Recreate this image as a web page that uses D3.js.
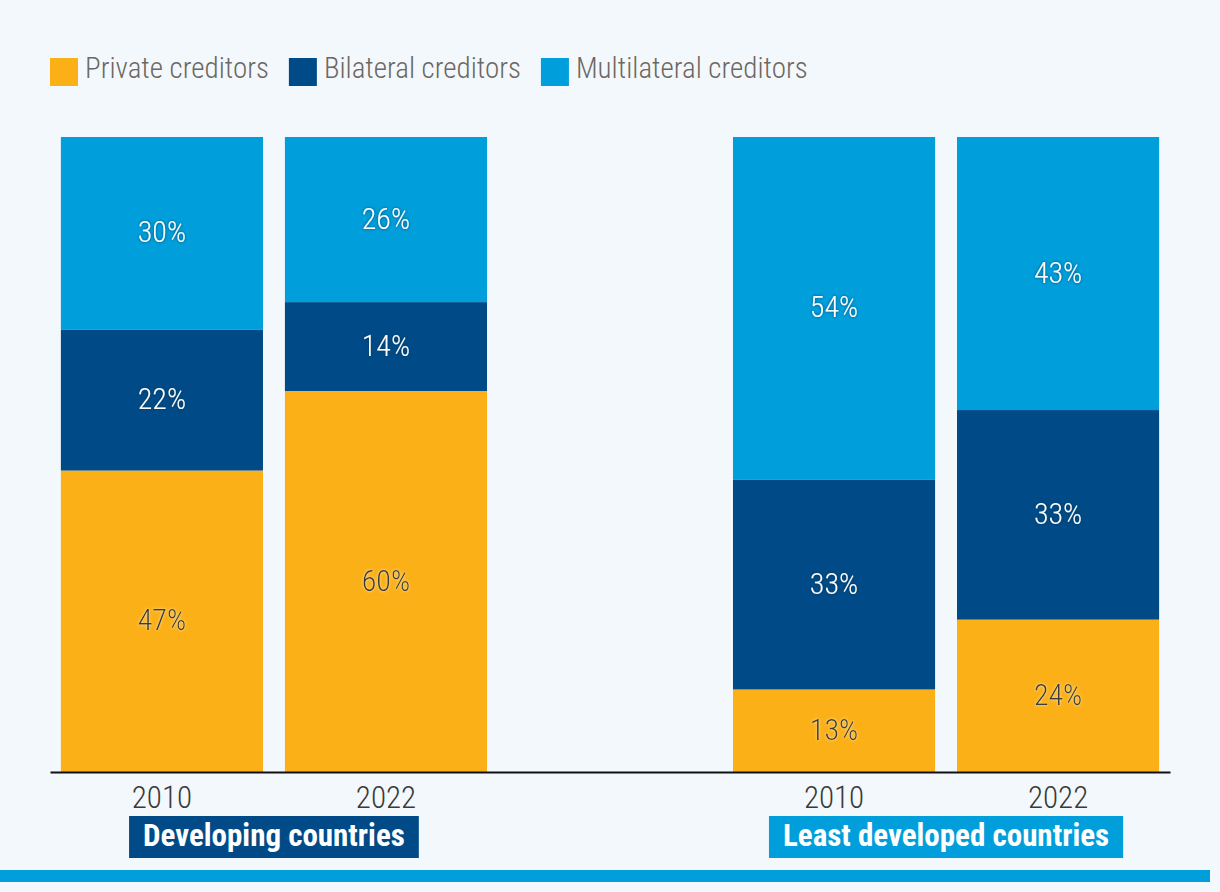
<!DOCTYPE html>
<html><head><meta charset="utf-8">
<script src="https://cdn.jsdelivr.net/npm/d3@7"></script>
<style>
html,body{margin:0;padding:0;background:#f3f8fc;}
svg{display:block;}
.cond{font-family:"Liberation Sans Narrow","Arial Narrow","Roboto Condensed",sans-serif;}
.light{font-weight:300;}
</style></head>
<body>
<svg id="chart" width="1220" height="892"></svg>
<script>
const seriesKeys = ["private","bilateral","multilateral"];
const seriesNames = ["Private creditors","Bilateral creditors","Multilateral creditors"];
const seriesColors = ["#fbb018","#004b87","#009fdb"];
const groups = ["Developing countries","Least developed countries"];
const groupColors = ["#004b87","#009fdb"];
const years = ["2010","2022"];
const barIds = ["dev2010","dev2022","gap","ldc2010","ldc2022"];
const privateVals = [47,60,null,13,24];
const bilateralVals = [22,14,null,33,33];
const multilateralVals = [30,26,null,54,43];

const svg = d3.select("#chart");
const W = 1220, H = 892;
svg.append("rect").attr("width",W).attr("height",H).attr("fill","#f3f8fc");

const rows = barIds.map((id,i)=>({id, private:privateVals[i]||0, bilateral:bilateralVals[i]||0, multilateral:multilateralVals[i]||0, empty: privateVals[i]==null}));
const stack = d3.stack().keys(seriesKeys).offset(d3.stackOffsetExpand);
const stacked = stack(rows.filter(r=>!r.empty));

const x = d3.scaleBand().domain(barIds).range([50,1170]).paddingInner(0.0979).paddingOuter(0.0486);
const y = d3.scaleLinear().domain([0,1]).range([772,137]);
const color = d3.scaleOrdinal().domain(seriesKeys).range(seriesColors);

const defs = svg.append("defs");
const f1 = defs.append("filter").attr("id","glowDark").attr("x","-30%").attr("y","-30%").attr("width","160%").attr("height","160%");
f1.append("feDropShadow").attr("dx",0).attr("dy",0).attr("stdDeviation",1.5).attr("flood-color","#00304f").attr("flood-opacity",0.8);
const f2 = defs.append("filter").attr("id","glowLight").attr("x","-30%").attr("y","-30%").attr("width","160%").attr("height","160%");
f2.append("feDropShadow").attr("dx",0).attr("dy",0).attr("stdDeviation",1.5).attr("flood-color","#fff6d0").attr("flood-opacity",0.8);

const layers = svg.append("g").selectAll("g").data(stacked).join("g").attr("fill",d=>color(d.key));
layers.selectAll("rect").data(d=>d).join("rect")
  .attr("x",d=>x(d.data.id)).attr("width",x.bandwidth())
  .attr("y",d=>y(d[1])).attr("height",d=>y(d[0])-y(d[1]));

// labels
stacked.forEach(layer=>{
  const isPrivate = layer.key==="private";
  svg.append("g").selectAll("text").data(layer).join("text")
    .attr("class","cond light")
    .attr("x",d=>x(d.data.id)+x.bandwidth()/2)
    .attr("y",d=>(y(d[0])+y(d[1]))/2)
    .attr("dy","0.3em")
    .attr("text-anchor","middle")
    .attr("font-size",30)
    .attr("fill",isPrivate?"#3a3a3a":"#ffffff")
    .attr("filter",isPrivate?"url(#glowLight)":"url(#glowDark)")
    .text(d=>d.data[layer.key]+"%");
});

// axis baseline
const axis = d3.axisBottom(x).tickSize(0).tickFormat((d,i)=>{
  const idx = {dev2010:0,dev2022:1,ldc2010:0,ldc2022:1}[d];
  return idx==null?"":years[idx];
});
const ag = svg.append("g").attr("transform","translate(0,772)").call(axis);
ag.select(".domain").attr("stroke","#111").attr("stroke-width",2);
ag.selectAll(".tick text").attr("class","cond light").attr("font-size",31).attr("fill","#3a3a3a").attr("dy",0).attr("y",36);

// group labels
const groupBars = [["dev2010","dev2022"],["ldc2010","ldc2022"]];
groups.forEach((g,i)=>{
  const cx = (x(groupBars[i][0]) + x(groupBars[i][1]) + x.bandwidth())/2;
  const t = svg.append("text").attr("class","cond")
    .attr("x",cx).attr("y",846).attr("text-anchor","middle")
    .attr("font-size",31).attr("font-weight","bold").attr("fill","#fff").text(g);
  const bb = t.node().getBBox();
  svg.insert("rect", function(){return t.node();})
    .attr("x",bb.x-14).attr("width",bb.width+28).attr("y",816).attr("height",42).attr("fill",groupColors[i]);
});

// bottom stripe
svg.append("rect").attr("x",0).attr("y",870).attr("width",1210).attr("height",12).attr("fill","#009fdb");

// legend
const lg = svg.append("g");
let lx = 50;
seriesNames.forEach((n,i)=>{
  lg.append("rect").attr("x",lx).attr("y",58).attr("width",28).attr("height",28).attr("fill",seriesColors[i]);
  const t = lg.append("text").attr("class","cond light").attr("x",lx+35).attr("y",78)
    .attr("font-size",29).attr("fill","#6d6762").text(n);
  lx += 35 + t.node().getComputedTextLength() + 20;
});
</script>
</body></html>
